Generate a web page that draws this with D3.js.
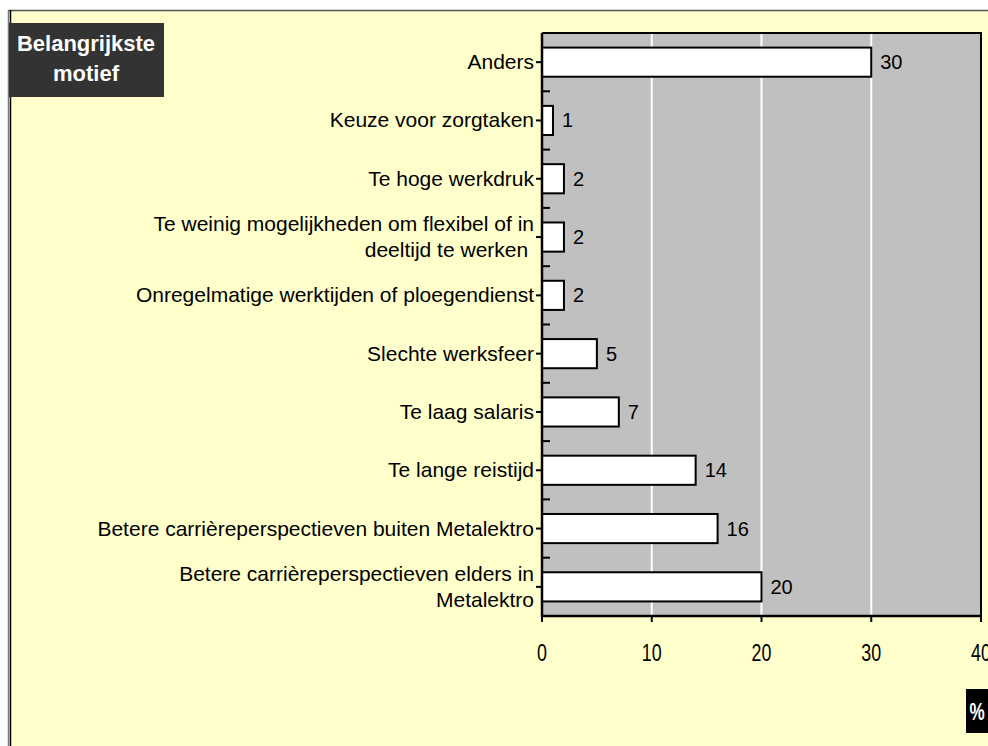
<!DOCTYPE html>
<html>
<head>
<meta charset="utf-8">
<script src="https://cdn.jsdelivr.net/npm/d3@7"></script>
<style>
  html, body { margin: 0; padding: 0; background: #fff; }
  svg { display: block; font-family: "Liberation Sans", Arial, sans-serif; }
</style>
</head>
<body>
<div class="MotiefChart"></div>
<script>
// categories, top to bottom (multi-line labels split with \n)
const categories = [
  'Anders',
  'Keuze voor zorgtaken',
  'Te hoge werkdruk',
  'Te weinig mogelijkheden om flexibel of in\ndeeltijd te werken ',
  'Onregelmatige werktijden of ploegendienst',
  'Slechte werksfeer',
  'Te laag salaris',
  'Te lange reistijd',
  'Betere carrièreperspectieven buiten Metalektro',
  'Betere carrièreperspectieven elders in\nMetalektro'
];
const values = [30, 1, 2, 2, 2, 5, 7, 14, 16, 20];
const xTicks = [0, 10, 20, 30, 40];
const gridTicks = [10, 20, 30];
const titleLines = ['Belangrijkste', 'motief'];
const unitLabel = '%';

const width = 988;
const height = 746;
const plot = { left: 542, right: 981, top: 33, bottom: 616 };

const svg = d3.select('.MotiefChart')
  .append('svg')
  .attr('width', width)
  .attr('height', height);

// outer frame
svg.append('rect')
  .attr('x', 9).attr('y', 10)
  .attr('width', width).attr('height', height)
  .attr('fill', '#ffffcc');
svg.append('line')
  .attr('x1', 8).attr('x2', width).attr('y1', 10.5).attr('y2', 10.5)
  .attr('stroke', '#555').attr('stroke-width', 1.5);
svg.append('line')
  .attr('x1', 8.5).attr('x2', 8.5).attr('y1', 10).attr('y2', height)
  .attr('stroke', '#777').attr('stroke-width', 1.5);
svg.append('line')
  .attr('x1', 10.5).attr('x2', 10.5).attr('y1', 10).attr('y2', height)
  .attr('stroke', '#000').attr('stroke-width', 1.5);

const xScale = d3.scaleLinear()
  .domain([0, 40])
  .range([plot.left, plot.right]);

const yScale = d3.scaleBand()
  .domain(categories)
  .range([plot.top, plot.bottom])
  .paddingInner(0.5)
  .paddingOuter(0.25);

const step = yScale.step();

// plot background
svg.append('rect')
  .attr('x', plot.left).attr('y', plot.top)
  .attr('width', plot.right - plot.left)
  .attr('height', plot.bottom - plot.top)
  .attr('fill', '#c0c0c0');

// gridlines
svg.append('g').attr('class', 'grid')
  .selectAll('line')
  .data(gridTicks)
  .enter().append('line')
  .attr('x1', d => xScale(d)).attr('x2', d => xScale(d))
  .attr('y1', plot.top).attr('y2', plot.bottom)
  .attr('stroke', '#fff').attr('stroke-width', 2);

// plot frame (top + right)
svg.append('path')
  .attr('d', `M${plot.left},${plot.top}H${plot.right}V${plot.bottom}`)
  .attr('fill', 'none')
  .attr('stroke', '#000')
  .attr('stroke-width', 2);

// bars
svg.append('g').attr('class', 'bars')
  .selectAll('rect')
  .data(categories)
  .enter().append('rect')
  .attr('x', xScale(0))
  .attr('y', d => yScale(d))
  .attr('width', (d, i) => xScale(values[i]) - xScale(0))
  .attr('height', yScale.bandwidth())
  .attr('fill', '#fff')
  .attr('stroke', '#000')
  .attr('stroke-width', 2);

// value labels
svg.append('g').attr('class', 'values')
  .selectAll('text')
  .data(categories)
  .enter().append('text')
  .attr('x', (d, i) => xScale(values[i]) + 9)
  .attr('y', d => yScale(d) + yScale.bandwidth() / 2 + 7)
  .attr('font-size', 20)
  .attr('fill', '#000')
  .text((d, i) => values[i]);

// y axis: line, category ticks outside, boundary ticks inside
const yAxis = svg.append('g').attr('class', 'axis y');
yAxis.append('line')
  .attr('x1', plot.left).attr('x2', plot.left)
  .attr('y1', plot.top).attr('y2', plot.bottom + 1)
  .attr('stroke', '#000').attr('stroke-width', 2.5);
yAxis.selectAll('.tick-out')
  .data(categories)
  .enter().append('line')
  .attr('x1', plot.left - 6).attr('x2', plot.left)
  .attr('y1', d => yScale(d) + yScale.bandwidth() / 2)
  .attr('y2', d => yScale(d) + yScale.bandwidth() / 2)
  .attr('stroke', '#000').attr('stroke-width', 2);
yAxis.selectAll('.tick-in')
  .data(d3.range(categories.length))
  .enter().append('line')
  .attr('x1', plot.left).attr('x2', plot.left + 8)
  .attr('y1', i => plot.top + step * i)
  .attr('y2', i => plot.top + step * i)
  .attr('stroke', '#000').attr('stroke-width', 2);

// category labels
const lineHeight = 26;
yAxis.selectAll('.label')
  .data(categories)
  .enter().append('text')
  .attr('class', 'label')
  .attr('text-anchor', 'end')
  .attr('font-size', 21)
  .attr('fill', '#000')
  .each(function (d) {
    const lines = d.split('\n');
    const cy = yScale(d) + yScale.bandwidth() / 2;
    const first = cy + 7 - (lines.length - 1) * lineHeight / 2;
    lines.forEach((line, k) => {
      d3.select(this).append('tspan')
        .attr('x', plot.left - 8)
        .attr('y', first + k * lineHeight)
        .attr('xml:space', 'preserve')
        .text(line);
    });
  });

// x axis
const xAxis = svg.append('g').attr('class', 'axis x');
xAxis.append('line')
  .attr('x1', plot.left).attr('x2', plot.right)
  .attr('y1', plot.bottom).attr('y2', plot.bottom)
  .attr('stroke', '#000').attr('stroke-width', 2.5);
xAxis.selectAll('.tick')
  .data(xTicks)
  .enter().append('line')
  .attr('x1', d => xScale(d)).attr('x2', d => xScale(d))
  .attr('y1', plot.bottom).attr('y2', plot.bottom + 6)
  .attr('stroke', '#000').attr('stroke-width', 2);
xAxis.selectAll('text')
  .data(xTicks)
  .enter().append('text')
  .attr('text-anchor', 'middle')
  .attr('font-size', 21)
  .attr('fill', '#000')
  .attr('transform', d => `translate(${xScale(d)},661) scale(0.85,1.15)`)
  .text(d => d);

// title box
const title = svg.append('g').attr('class', 'title');
title.append('rect')
  .attr('x', 9).attr('y', 23)
  .attr('width', 155).attr('height', 74)
  .attr('fill', '#333');
title.selectAll('text')
  .data(titleLines)
  .enter().append('text')
  .attr('x', 86)
  .attr('y', (d, i) => 51 + i * 30)
  .attr('text-anchor', 'middle')
  .attr('font-size', 22)
  .attr('font-weight', 'bold')
  .attr('fill', '#fff')
  .text(d => d);

// unit box
const unit = svg.append('g').attr('class', 'unit');
unit.append('rect')
  .attr('x', 966).attr('y', 689)
  .attr('width', 30).attr('height', 44)
  .attr('fill', '#000');
unit.append('text')
  .attr('text-anchor', 'middle')
  .attr('font-size', 19)
  .attr('font-weight', 'bold')
  .attr('fill', '#fff')
  .attr('transform', 'translate(977,720) scale(0.9,1.3)')
  .text(unitLabel);
</script>
</body>
</html>
